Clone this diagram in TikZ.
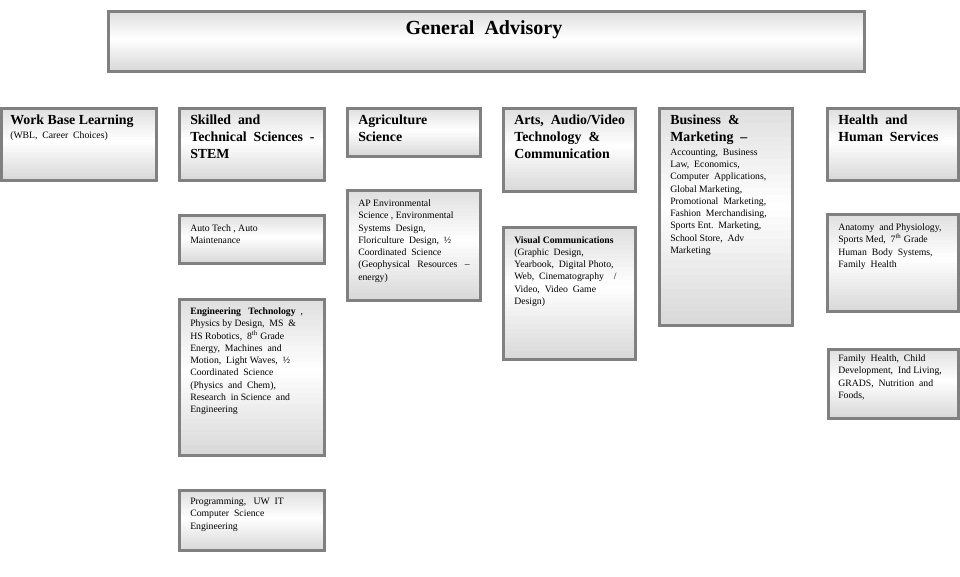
\documentclass[tikz,border=0pt]{standalone}
\usepackage{fontspec}
\setmainfont{Liberation Serif}
\usetikzlibrary{positioning}
\usetikzlibrary{scopes}

\tikzset{
	box/.style={draw=gray, line width=2.6pt},
	head/.style={inner sep=0pt, anchor=north west, align=left, font=\fontsize{10.4}{12.75}\selectfont\bfseries},
	body/.style={inner sep=0pt, anchor=north west, align=left, font=\fontsize{7.3}{9.2}\selectfont}
}

% Grey-white-grey fill in horizontal bands, then the grey frame;
% #1,#2 upper left, #3,#4 lower right, #5 name of the corner
\newcommand{\shadedpanel}[5]{
	\foreach \band in {0,...,29}{
		\pgfmathsetmacro{\bandtone}{30*abs(\band-13)/16}
		\pgfmathsetmacro{\bandtop}{#2+\band*(#4-#2)/30}
		\pgfmathsetmacro{\bandbot}{#2+(\band+1)*(#4-#2)/30+0.4}
		\fill[gray!\bandtone] (#1,\bandtop) rectangle (#3,\bandbot);
	}
	\draw[box] (#1,#2) coordinate (#5) rectangle (#3,#4);
}

\begin{document}
\begin{tikzpicture}[x=0.75pt, y=-0.75pt]
		\useasboundingbox (0,0) rectangle (960,576);
		% The wide title box on top
		\shadedpanel{108.5}{11.5}{864.5}{71.5}{Title Corner}
		\node[anchor=north, inner sep=0pt, font=\fontsize{15}{18}\selectfont\bfseries]
			(Title Text) at (484,20) {General\ \ Advisory};

		% First column: work base learning
		\shadedpanel{1.5}{108.5}{156.5}{180.5}{WBL Corner}
		\node[head] (WBL Head) at ([shift={(8.5,6.5)}]WBL Corner) {Work Base Learning};
		\node[body, below=2.5pt of WBL Head.south west, anchor=north west] (WBL Text)
			{(WBL,\ \ Career\ \ Choices)};

		% Second column: STEM and its three boxes
		\shadedpanel{179.5}{108.5}{324.5}{180.5}{STEM Corner}
		\node[head] (STEM Head) at ([shift={(10.5,6.5)}]STEM Corner)
			{Skilled\ \ and\\Technical\ \ Sciences\ \ -\\STEM};
		\shadedpanel{179.5}{215.5}{324.5}{263.5}{Auto Corner}
		\node[body] (Auto Text) at ([shift={(10.5,8.5)}]Auto Corner)
			{Auto Tech , Auto\\Maintenance};
		\shadedpanel{179.5}{299.5}{324.5}{455.5}{Eng Corner}
		\node[body] (Eng Text) at ([shift={(10.5,8)}]Eng Corner)
			{\textbf{Engineering\ \ \ Technology}\ \ ,\\Physics by Design,\ \ MS\ \ \&\\HS Robotics,\ \ 8\textsuperscript{th} Grade\\Energy,\ \ Machines\ \ and\\Motion,\ \ Light Waves,\ \ ½\\Coordinated\ \ Science\\(Physics\ \ and\ \ Chem),\\Research\ \ in Science\ \ and\\Engineering};
		\shadedpanel{179.5}{490.5}{324.5}{550.5}{Prog Corner}
		\node[body] (Prog Text) at ([shift={(10.5,7.5)}]Prog Corner)
			{Programming,\ \ \ UW\ \ IT\\Computer\ \ Science\\Engineering};

		% Third column: agriculture science
		\shadedpanel{347.5}{108.5}{480.5}{156.5}{Agri Corner}
		\node[head] (Agri Head) at ([shift={(10.5,6.5)}]Agri Corner) {Agriculture\\Science};
		\shadedpanel{347.5}{190.5}{480.5}{300.5}{Env Corner}
		\node[body] (Env Text) at ([shift={(10.5,9)}]Env Corner)
			{AP Environmental\\Science , Environmental\\Systems\ \ Design,\\Floriculture\ \ Design,\ \ ½\\Coordinated\ \ Science\\(Geophysical\ \ \ Resources\ \ \ --\\energy)};

		% Fourth column: arts, audio and video
		\shadedpanel{503.5}{108.5}{635.5}{191.5}{Arts Corner}
		\node[head] (Arts Head) at ([shift={(10.5,6.5)}]Arts Corner)
			{Arts,\ \ Audio/Video\\Technology\ \ \&\\Communication};
		\shadedpanel{503.5}{227.5}{635.5}{359.5}{Vis Corner}
		\node[body] (Vis Text) at ([shift={(10.5,8.5)}]Vis Corner)
			{\textbf{Visual Communications}\\(Graphic\ \ Design,\\Yearbook,\ \ Digital Photo,\\Web,\ \ Cinematography\ \ \ \ /\\Video,\ \ Video\ \ Game\\Design)};

		% Fifth column: business and marketing
		\shadedpanel{659.5}{108.5}{792.5}{325.5}{Bus Corner}
		\node[head] (Bus Head) at ([shift={(10.5,6.5)}]Bus Corner)
			{Business\ \ \&\\Marketing\ \ --};
		\node[body, below=2.5pt of Bus Head.south west, anchor=north west] (Bus Text)
			{Accounting,\ \ Business\\Law,\ \ Economics,\\Computer\ \ Applications,\\Global Marketing,\\Promotional\ \ Marketing,\\Fashion\ \ Merchandising,\\Sports Ent.\ \ Marketing,\\School Store,\ \ Adv\\Marketing};

		% Last column: health and human services
		\shadedpanel{827.5}{108.5}{958.5}{180.5}{Health Corner}
		\node[head] (Health Head) at ([shift={(10.5,6.5)}]Health Corner)
			{Health\ \ and\\Human\ \ Services};
		\shadedpanel{827.5}{214.5}{958.5}{311.5}{Anat Corner}
		\node[body] (Anat Text) at ([shift={(10.5,9)}]Anat Corner)
			{Anatomy\ \ and Physiology,\\Sports Med,\ \ 7\textsuperscript{th} Grade\\Human\ \ Body\ \ Systems,\\Family\ \ Health};
		\shadedpanel{828.5}{349.5}{958.5}{418.5}{Family Corner}
		\node[body] (Family Text) at ([shift={(9.5,5)}]Family Corner)
			{Family\ \ Health,\ \ Child\\Development,\ \ Ind Living,\\GRADS,\ \ Nutrition\ \ and\\Foods,};
	\end{tikzpicture}
\end{document}
